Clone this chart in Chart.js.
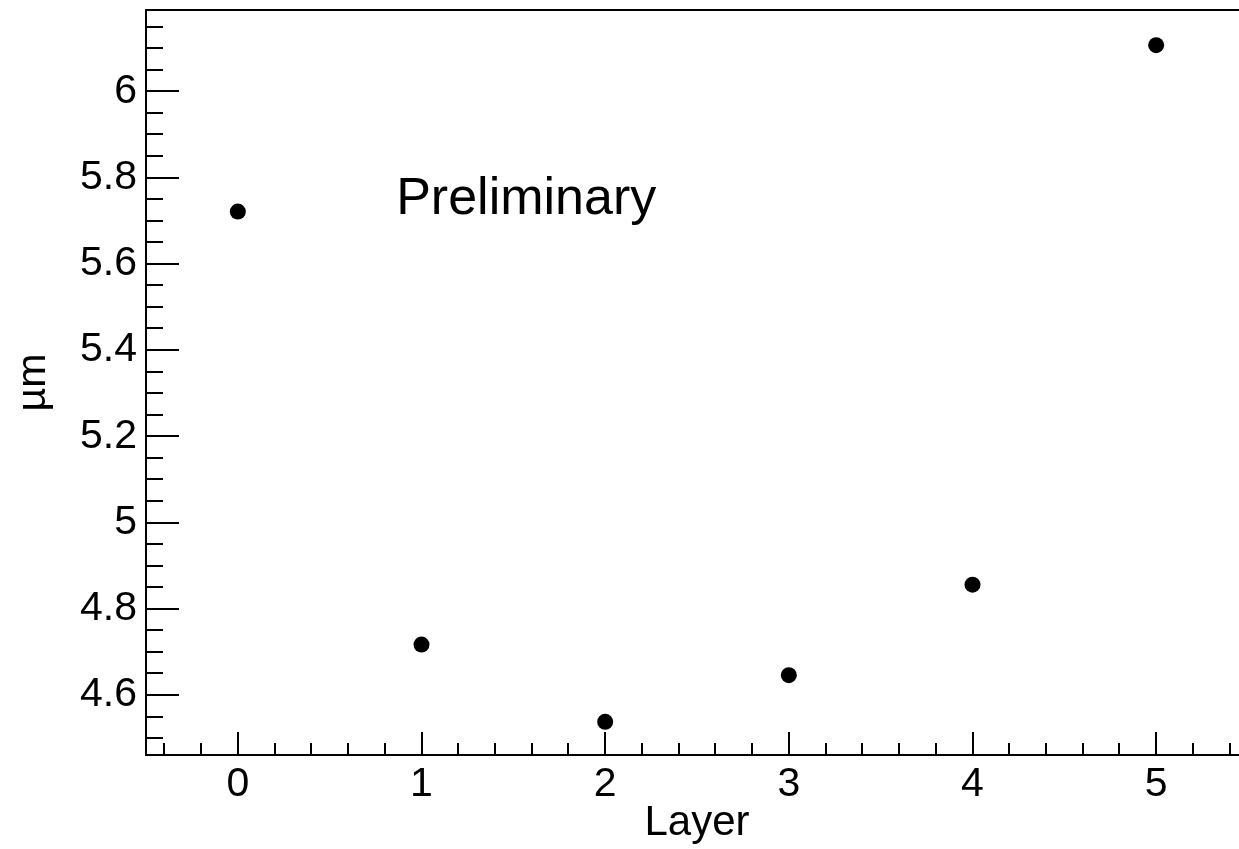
<!DOCTYPE html>
<html lang="en">
<head>
    <meta charset="UTF-8">
    <title>Resolution per layer</title>
    <script src="https://cdn.jsdelivr.net/npm/chart.js"></script>
    <style>
        html, body {
            margin: 0;
            padding: 0;
            background: #fff;
            overflow: hidden;
        }
        /* frame runs past the right edge of the window, like the original */
        #myChart {
            display: block;
        }
    </style>
</head>
<body>
    <canvas id="myChart" width="1256" height="849"></canvas>

    <script>
        // data
        var layers = [0, 1, 2, 3, 4, 5];
        var values = [5.721, 4.717, 4.538, 4.646, 4.856, 6.107];

        // axis ranges and labelled ticks
        var xRange = [-0.5, 5.5];
        var yRange = [4.461, 6.1885];
        var xTicks = [0, 1, 2, 3, 4, 5];
        var yTicks = [4.6, 4.8, 5.0, 5.2, 5.4, 5.6, 5.8, 6.0];
        var xMinorStep = 0.2;
        var yMinorStep = 0.05;

        var xTitle = 'Layer';
        var yTitle = 'µm';
        var note = 'Preliminary';
        var notePos = [0.862, 5.715];

        var fontFamily = '"Liberation Sans", Arial, Helvetica, sans-serif';

        var points = layers.map(function(l, i) {
            return { x: l, y: values[i] };
        });

        // ROOT-like frame: inward major/minor ticks, top line, note text
        var frameTicks = {
            id: 'frameTicks',
            afterDatasetsDraw: function(chart) {
                var ctx = chart.ctx;
                var area = chart.chartArea;
                var xs = chart.scales.x;
                var ys = chart.scales.y;
                ctx.save();
                ctx.strokeStyle = '#000';
                ctx.lineWidth = 2;
                ctx.beginPath();
                ctx.rect(area.left, area.top, area.right - area.left, area.bottom - area.top);
                ctx.stroke();

                ctx.lineWidth = 2;
                ctx.beginPath();
                var v, i;
                // x ticks
                var x0 = Math.ceil(xRange[0] / xMinorStep);
                for (i = x0; i * xMinorStep <= xRange[1] + 1e-9; i++) {
                    v = i * xMinorStep;
                    var px = Math.round(xs.getPixelForValue(v));
                    var major = Math.abs(v - Math.round(v)) < 1e-6;
                    var len = major ? 23 : 12;
                    ctx.moveTo(px, area.bottom);
                    ctx.lineTo(px, area.bottom - len);
                }
                // y ticks
                var y0 = Math.ceil(yRange[0] / yMinorStep);
                for (i = y0; i * yMinorStep <= yRange[1] + 1e-9; i++) {
                    v = i * yMinorStep;
                    var py = Math.round(ys.getPixelForValue(v));
                    var isMajor = Math.abs(v * 5 - Math.round(v * 5)) < 1e-6;
                    var l2 = isMajor ? 33 : 17;
                    ctx.moveTo(area.left, py);
                    ctx.lineTo(area.left + l2, py);
                }
                ctx.stroke();

                ctx.fillStyle = '#000';
                ctx.font = '52px ' + fontFamily;
                ctx.textAlign = 'left';
                ctx.textBaseline = 'alphabetic';
                ctx.fillText(note, xs.getPixelForValue(notePos[0]), ys.getPixelForValue(notePos[1]));
                ctx.restore();
            }
        };

        var ctx = document.getElementById('myChart').getContext('2d');
        var myChart = new Chart(ctx, {
            type: 'scatter',
            data: {
                datasets: [{
                    data: points,
                    backgroundColor: '#000',
                    borderColor: '#000',
                    borderWidth: 0,
                    pointRadius: 8,
                    pointHoverRadius: 8
                }]
            },
            options: {
                responsive: false,
                animation: false,
                events: [],
                layout: {
                    padding: { left: 0, top: 10, right: 3.2, bottom: 0 }
                },
                plugins: {
                    legend: { display: false },
                    tooltip: { enabled: false }
                },
                scales: {
                    x: {
                        type: 'linear',
                        min: xRange[0],
                        max: xRange[1],
                        afterBuildTicks: function(scale) {
                            scale.ticks = xTicks.map(function(v) { return { value: v }; });
                        },
                        afterFit: function(scale) {
                            scale.height = 94;
                            scale.paddingLeft = 0;
                            scale.paddingRight = 0;
                        },
                        grid: { display: false, drawTicks: false },
                        border: { display: false },
                        ticks: {
                            padding: 5,
                            color: '#000',
                            maxRotation: 0,
                            font: { family: fontFamily, size: 41 },
                            callback: function(v) { return String(v); }
                        },
                        title: {
                            display: true,
                            text: xTitle,
                            color: '#000',
                            padding: 0,
                            font: { family: fontFamily, size: 42 }
                        }
                    },
                    y: {
                        type: 'linear',
                        min: yRange[0],
                        max: yRange[1],
                        afterBuildTicks: function(scale) {
                            scale.ticks = yTicks.map(function(v) { return { value: v }; });
                        },
                        afterFit: function(scale) {
                            scale.width = 146;
                            scale.paddingTop = 0;
                            scale.paddingBottom = 0;
                        },
                        grid: { display: false, drawTicks: false },
                        border: { display: false },
                        ticks: {
                            padding: 9,
                            color: '#000',
                            font: { family: fontFamily, size: 41 },
                            callback: function(v) { return String(Math.round(v * 10) / 10); }
                        },
                        title: {
                            display: true,
                            text: yTitle,
                            color: '#000',
                            padding: { top: 9, bottom: 0 },
                            font: { family: fontFamily, size: 41 }
                        }
                    }
                }
            },
            plugins: [frameTicks]
        });
    </script>
</body>
</html>
